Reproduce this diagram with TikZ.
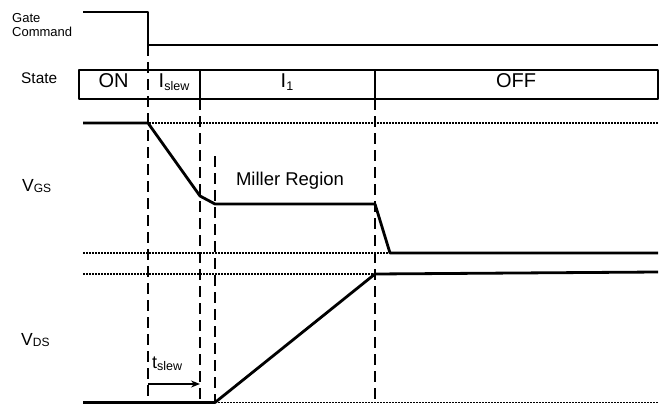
\documentclass[tikz,border=0pt]{standalone}
\usepackage{fontspec}
\setmainfont{Liberation Sans}
\usetikzlibrary{arrows.meta}

\newcommand{\fs}[1]{\fontsize{#1}{#1}\selectfont}

\begin{document}
\begin{tikzpicture}[x=1pt, y=-1pt,
    wave/.style={line width=2.8pt, line join=round},
    guide/.style={line width=1.6pt, dash pattern=on 11pt off 6pt},
    level/.style={line width=1.6pt, dash pattern=on 1.5pt off 1.5pt}]
        \useasboundingbox (0,0) rectangle (661,404);
        % row labels
        \node[anchor=base west, inner sep=0pt, font=\fs{13}] (gate) at (12,23) {Gate};
        \node[anchor=base west, inner sep=0pt, font=\fs{13}] (command) at (12,37) {Command};
        \node[anchor=base west, inner sep=0pt, font=\fs{15.4}] (state) at (21,84) {State};
        \node[anchor=base west, inner sep=0pt, font=\fs{17.5}] (vgs) at (22,191)
            {V\raisebox{-1pt}{\fs{12}GS}};
        \node[anchor=base west, inner sep=0pt, font=\fs{17.5}] (vds) at (21,345)
            {V\raisebox{-1pt}{\fs{12}DS}};
        % gate command
        \draw [wave] (83,12) -- (148,12) -- (148,45) -- (658,45);
        % state row
        \draw [wave] (79,70) rectangle (658,99);
        \draw [wave] (200,70) -- (200,99);
        \draw [wave] (375,70) -- (375,99);
        \node[anchor=base, inner sep=0pt, font=\fs{20}] (on) at (113.5,87) {ON};
        \node[anchor=base, inner sep=0pt, font=\fs{20}] (islew) at (174,87)
            {I\raisebox{-3pt}{\fs{12.5}slew}};
        \node[anchor=base, inner sep=0pt, font=\fs{20}] (ione) at (287,87)
            {I\raisebox{-3pt}{\fs{12.5}1}};
        \node[anchor=base, inner sep=0pt, font=\fs{20}] (off) at (516,87) {OFF};
        % time markers
        \draw [guide] (148,45) -- (148,403);
        \draw [guide] (200,99) -- (200,403);
        \draw [guide] (215,156) -- (215,403);
        \draw [guide] (375,99) -- (375,403);
        % reference levels
        \draw [level] (83,123) -- (658,123);
        \draw [level] (83,253) -- (658,253);
        \draw [level] (83,274) -- (375,274);
        \draw [level] (215,402.5) -- (658,402.5);
        % waveforms
        \draw [wave] (83,123) -- (148,123) -- (200,196) -- (215,204) -- (375,204)
            -- (390,253) -- (658,253);
        \draw [wave] (83,402.5) -- (215,402.5) -- (375,274) -- (658,272);
        \node[anchor=base, inner sep=0pt, font=\fs{18.5}] (miller) at (290,185) {Miller Region};
        % slew time
        \coordinate (ts0) at (148,384);
        \coordinate (ts1) at (200,384);
        \draw [line width=2pt, -{Stealth[length=9pt, width=7pt, inset=3pt]}] (ts0) -- (ts1);
        \node[anchor=base west, inner sep=0pt, font=\fs{18}] (tslew) at (152,368)
            {t\raisebox{-2pt}{\fs{12.5}slew}};
    \end{tikzpicture}
\end{document}
